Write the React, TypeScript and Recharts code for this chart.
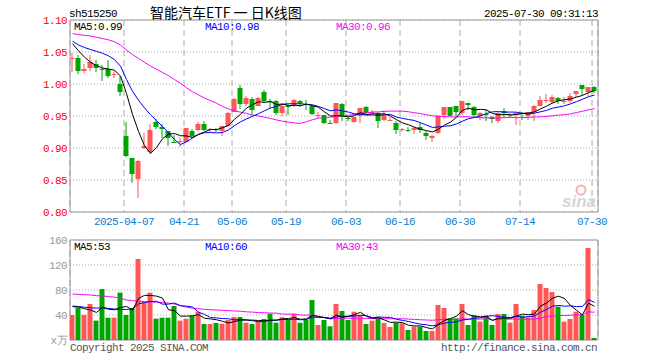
import React from 'react';
import { ComposedChart, Bar, Line, XAxis, YAxis, CartesianGrid, ReferenceArea, Cell } from 'recharts';

// trading days shown (2025)
const marDays = [24, 25, 26, 27, 28, 31];
const aprDays = [1, 2, 3, 7, 8, 9, 10, 11, 14, 15, 16, 17, 18, 21, 22, 23, 24, 25, 28, 29, 30];
const mayDays = [6, 7, 8, 9, 12, 13, 14, 15, 16, 19, 20, 21, 22, 23, 26, 27, 28, 29, 30];
const junDays = [3, 4, 5, 6, 9, 10, 11, 12, 13, 16, 17, 18, 19, 20, 23, 24, 25, 26, 27, 30];
const julDays = [1, 2, 3, 4, 7, 8, 9, 10, 11, 14, 15, 16, 17, 18, 21, 22, 23, 24, 25, 28, 29, 30];

const tickDates = ['2025-04-07', '2025-04-21', '2025-05-06', '2025-05-19', '2025-06-03', '2025-06-16', '2025-06-30', '2025-07-14', '2025-07-30'];
const tickLabels = ['2025-04-07', '04-21', '05-06', '05-19', '06-03', '06-16', '06-30', '07-14', '07-30'];

const opens = [
  1.040, 1.040, 1.020, 1.025, 1.032, 1.023, 1.024, 1.014, 1.000, 0.918,
  0.885, 0.852, 0.8995, 0.894, 0.940, 0.933, 0.927, 0.909, 0.910, 0.910,
  0.927, 0.928, 0.938, 0.928, 0.929, 0.926, 0.935, 0.957, 0.993, 0.968,
  0.977, 0.966, 0.987, 0.9735, 0.974, 0.954, 0.9655, 0.965, 0.974, 0.968,
  0.966, 0.951, 0.951, 0.9392, 0.939, 0.969, 0.9465, 0.940, 0.9495, 0.9635,
  0.9555, 0.955, 0.943, 0.9435, 0.939, 0.928, 0.9288, 0.928, 0.933, 0.9234,
  0.9156, 0.9234, 0.952, 0.9635, 0.965, 0.955, 0.970, 0.9635, 0.9495, 0.9535,
  0.9484, 0.9417, 0.9573, 0.9515, 0.952, 0.9552, 0.9495, 0.9563, 0.966, 0.9745,
  0.9714, 0.978, 0.973, 0.973, 0.9844, 0.999, 0.9875, 0.9948,
];
const highs = [
  1.048, 1.046, 1.032, 1.046, 1.038, 1.029, 1.037, 1.020, 1.012, 0.940,
  0.885, 0.882, 0.924, 0.938, 0.946, 0.938, 0.927, 0.920, 0.915, 0.932,
  0.929, 0.940, 0.942, 0.931, 0.932, 0.934, 0.956, 0.978, 0.998, 0.981,
  0.979, 0.979, 0.990, 0.977, 0.975, 0.969, 0.968, 0.976, 0.9755, 0.9755,
  0.967, 0.957, 0.952, 0.944, 0.971, 0.970, 0.950, 0.949, 0.963, 0.965,
  0.9595, 0.956, 0.960, 0.948, 0.942, 0.931, 0.933, 0.934, 0.939, 0.926,
  0.921, 0.952, 0.964, 0.964, 0.966, 0.974, 0.971, 0.965, 0.957, 0.9595,
  0.950, 0.957, 0.9625, 0.9547, 0.957, 0.957, 0.957, 0.9677, 0.9818, 0.9844,
  0.9833, 0.979, 0.980, 0.9859, 0.9896, 0.999, 0.9953, 0.9964,
];
const lows = [
  1.018, 1.015, 1.017, 1.021, 1.018, 1.005, 1.010, 1.010, 0.981, 0.886,
  0.846, 0.822, 0.899, 0.890, 0.930, 0.916, 0.903, 0.908, 0.902, 0.909,
  0.916, 0.927, 0.926, 0.925, 0.925, 0.918, 0.934, 0.956, 0.961, 0.966,
  0.952, 0.965, 0.971, 0.9625, 0.952, 0.950, 0.952, 0.9635, 0.9635, 0.959,
  0.952, 0.947, 0.937, 0.937, 0.938, 0.942, 0.9415, 0.939, 0.939, 0.953,
  0.9515, 0.932, 0.942, 0.942, 0.922, 0.925, 0.925, 0.922, 0.924, 0.913,
  0.909, 0.922, 0.945, 0.950, 0.950, 0.952, 0.960, 0.949, 0.944, 0.9425,
  0.939, 0.939, 0.947, 0.947, 0.9365, 0.9443, 0.9443, 0.9417, 0.965, 0.970,
  0.968, 0.968, 0.968, 0.9703, 0.9797, 0.983, 0.982, 0.986,
];
const closes = [
  1.041, 1.020, 1.024, 1.034, 1.025, 1.022, 1.012, 1.015, 0.988, 0.888,
  0.860, 0.879, 0.903, 0.928, 0.933, 0.929, 0.915, 0.9085, 0.9105, 0.931,
  0.918, 0.938, 0.928, 0.930, 0.9285, 0.934, 0.955, 0.977, 0.968, 0.978,
  0.960, 0.978, 0.973, 0.973, 0.955, 0.965, 0.965, 0.9755, 0.970, 0.9675,
  0.953, 0.952, 0.939, 0.9388, 0.970, 0.9495, 0.946, 0.948, 0.9625, 0.955,
  0.956, 0.942, 0.952, 0.944, 0.9276, 0.930, 0.9284, 0.932, 0.928, 0.918,
  0.919, 0.9505, 0.9635, 0.9505, 0.957, 0.973, 0.9665, 0.951, 0.9547, 0.953,
  0.9453, 0.9547, 0.9547, 0.952, 0.9547, 0.9547, 0.9557, 0.965, 0.9755, 0.9755,
  0.9797, 0.973, 0.9735, 0.9818, 0.9896, 0.9927, 0.9953, 0.9896,
];
// volume, 万手
const volumes = [
  40, 51.7, 40, 57.6, 31, 81.6, 35.7, 35.7, 75.7, 40,
  51.2, 129.6, 60.3, 75.7, 34.1, 35.7, 35.7, 54.4, 31, 34.1,
  38.4, 45.3, 25.6, 25.6, 27.2, 26.1, 32, 36.8, 36.8, 27.7,
  25.6, 29.3, 33.6, 42.1, 27.7, 36.3, 32, 41.6, 27.7, 32,
  64, 24, 32, 22, 57.6, 46.4, 32, 45.3, 40, 25.6,
  31, 36.3, 27.2, 20.8, 27.7, 26.7, 16, 21.3, 21.3, 14.4,
  14.4, 56, 51.2, 34.7, 34.7, 57.6, 24, 39.5, 29.3, 38.9,
  24, 41.6, 41.6, 27.7, 57.6, 38.9, 36.3, 48, 89.6, 83.2,
  76.8, 53.3, 29.3, 33.6, 45.3, 40, 147.2, 3.2,
];

// MA values before enough days are in the window
const ma5Head = [1.063, 1.052, 1.042, 1.034];
const ma10Head = [1.067, 1.061, 1.057, 1.054, 1.051, 1.048, 1.044, 1.038, 1.028];
const ma30Head = [
  1.079, 1.077, 1.076, 1.075, 1.073, 1.071, 1.069, 1.066, 1.061, 1.053,
  1.046, 1.040, 1.034, 1.028, 1.023, 1.018, 1.013, 1.007, 1.001, 0.994,
  0.988, 0.983, 0.978, 0.974, 0.970, 0.965, 0.961, 0.958, 0.956,
];
const vma5Head = [53.3, 52.8, 50, 48];
const vma10Head = [54.4, 53.5, 52.5, 51.5, 51, 51.5, 50.5, 49.5, 49];
const vma30Head = [
  73.6, 73, 72.5, 72, 71, 70.5, 69.5, 68.5, 67, 64,
  63, 62, 61.5, 61, 60.5, 60, 59, 57.5, 55, 52.5,
  51, 50, 49, 48.5, 48, 47.5, 47, 46.5, 46,
];

const priceLegend = ['MA5:0.99', 'MA10:0.98', 'MA30:0.96'];
const volLegend = ['MA5:53', 'MA10:60', 'MA30:43'];

const RED = '#ff5656';
const GREEN = '#00a600';
const GRID = '#aaaaaa';
const MONO = '"Liberation Mono", "DejaVu Sans Mono", monospace';

const movingAvg = (vals: number[], n: number, head: number[]) =>
  vals.map((_, i) => {
    if (i < n - 1) return head[i];
    let s = 0;
    for (let k = i - n + 1; k <= i; k++) s += vals[k];
    return s / n;
  });

const dates = [
  ...marDays.map(d => `2025-03-${String(d).padStart(2, '0')}`),
  ...aprDays.map(d => `2025-04-${String(d).padStart(2, '0')}`),
  ...mayDays.map(d => `2025-05-${String(d).padStart(2, '0')}`),
  ...junDays.map(d => `2025-06-${String(d).padStart(2, '0')}`),
  ...julDays.map(d => `2025-07-${String(d).padStart(2, '0')}`),
];
const N = dates.length;
const tickIdx = tickDates.map(d => dates.indexOf(d));

const ma5 = movingAvg(closes, 5, ma5Head);
const ma10 = movingAvg(closes, 10, ma10Head);
const ma30 = movingAvg(closes, 30, ma30Head);
const vma5 = movingAvg(volumes, 5, vma5Head);
const vma10 = movingAvg(volumes, 10, vma10Head);
const vma30 = movingAvg(volumes, 30, vma30Head);

const rows = dates.map((date, i) => ({
  date,
  pos: i + 5 / 12, // candle sits a bit left of the slot centre, like the source
  open: opens[i],
  high: highs[i],
  low: lows[i],
  close: closes[i],
  range: [lows[i], highs[i]],
  vol: volumes[i],
  ma5: ma5[i],
  ma10: ma10[i],
  ma30: ma30[i],
  vma5: vma5[i],
  vma10: vma10[i],
  vma30: vma30[i],
}));

const Candle = (props: any) => {
  const { x, y, width, height, payload } = props;
  if (!payload) return null;
  const { open, close, high, low } = payload;
  const top = Math.min(y, y + height);
  const h = Math.abs(height);
  const ppu = h / (high - low);
  const yOf = (v: number) => top + (high - v) * ppu;
  const cx = x + width / 2;
  const color = close >= open ? RED : GREEN;
  const bTop = Math.round(yOf(Math.max(open, close)));
  const bBot = Math.round(yOf(Math.min(open, close)));
  return (
    <g>
      <rect x={cx - 0.5} y={Math.round(top)} width={1} height={Math.max(1, Math.round(top + h) - Math.round(top))} fill={color} />
      <rect x={cx - 2.5} y={bTop} width={5} height={Math.max(1, bBot - bTop)} fill={color} />
    </g>
  );
};

const axisTick = (fill: string) => ({ fill, fontSize: 11, fontFamily: MONO, letterSpacing: -0.6 });

const App = () => {
  return (
    <div style={{ position: 'absolute', left: 0, top: 0, width: 660, height: 360, background: '#fff' }}>
      <div style={{ position: 'absolute', left: 0, top: 0 }}>
        <ComposedChart width={660} height={230} data={rows} margin={{ top: 20, right: 62, bottom: 0, left: 0 }}>
          <CartesianGrid vertical={false} stroke={GRID} strokeDasharray="1 2" />
          <CartesianGrid horizontal={false} stroke={GRID} strokeDasharray="6 4" />
          <XAxis
            type="number"
            dataKey="pos"
            domain={[0, N]}
            ticks={tickIdx}
            interval={0}
            allowDataOverflow
            tickLine={false}
            axisLine={false}
            tickSize={0}
            tickMargin={5}
            height={18}
            tick={axisTick('#0a80d0')}
            tickFormatter={(v: number) => tickLabels[tickIdx.indexOf(v)] ?? ''}
          />
          <YAxis
            domain={[0.8, 1.1]}
            ticks={[0.8, 0.85, 0.9, 0.95, 1.0, 1.05, 1.1]}
            allowDataOverflow
            width={70}
            tickLine={false}
            axisLine={false}
            tickSize={0}
            tickMargin={3}
            tick={axisTick('#ff0000')}
            tickFormatter={(v: number) => v.toFixed(2)}
          />
          <ReferenceArea x1={0} x2={N} y1={0.8} y2={1.1} fill="none" stroke="#999" strokeWidth={1} />
          <Bar dataKey="range" barSize={5} shape={<Candle />} isAnimationActive={false} />
          <Line type="linear" dataKey="ma30" stroke="#ff00ff" strokeWidth={1} dot={false} isAnimationActive={false} />
          <Line type="linear" dataKey="ma10" stroke="#0000ff" strokeWidth={1} dot={false} isAnimationActive={false} />
          <Line type="linear" dataKey="ma5" stroke="#000000" strokeWidth={1} dot={false} isAnimationActive={false} />
        </ComposedChart>
      </div>
      <div style={{ position: 'absolute', left: 0, top: 230 }}>
        <ComposedChart width={660} height={130} data={rows} margin={{ top: 10, right: 62, bottom: 0, left: 0 }}>
          <CartesianGrid vertical={false} stroke={GRID} strokeDasharray="1 2" />
          <CartesianGrid horizontal={false} stroke={GRID} strokeDasharray="6 4" />
          <XAxis
            type="number"
            dataKey="pos"
            domain={[0, N]}
            ticks={tickIdx}
            interval={0}
            allowDataOverflow
            tick={false}
            tickLine={false}
            axisLine={false}
            height={20}
          />
          <YAxis
            domain={[0, 160]}
            ticks={[0, 40, 80, 120, 160]}
            allowDataOverflow
            width={70}
            tickLine={false}
            axisLine={false}
            tickSize={0}
            tickMargin={3}
            tick={axisTick('#999999')}
            tickFormatter={(v: number) => (v === 0 ? 'x万' : String(v))}
          />
          <ReferenceArea x1={0} x2={N} y1={0} y2={160} fill="none" stroke="#999" strokeWidth={1} />
          <Bar dataKey="vol" barSize={5} isAnimationActive={false}>
            {rows.map((r, i) => (
              <Cell key={`v-${i}`} fill={r.close >= r.open ? RED : GREEN} />
            ))}
          </Bar>
          <Line type="linear" dataKey="vma30" stroke="#ff00ff" strokeWidth={1} dot={false} isAnimationActive={false} />
          <Line type="linear" dataKey="vma10" stroke="#0000ff" strokeWidth={1} dot={false} isAnimationActive={false} />
          <Line type="linear" dataKey="vma5" stroke="#000000" strokeWidth={1} dot={false} isAnimationActive={false} />
        </ComposedChart>
      </div>
      {/* header, legends, footer */}
      <svg width={660} height={360} style={{ position: 'absolute', left: 0, top: 0, pointerEvents: 'none' }}>
        <g fontFamily={MONO} fontSize={11} letterSpacing={-0.6}>
          <text x={69} y={17} fill="#000">sh515250</text>
          <text x={598} y={17} fill="#000" textAnchor="end">2025-07-30 09:31:13</text>
          <text x={74} y={30} fill="#000">{priceLegend[0]}</text>
          <text x={205} y={30} fill="#0000ff">{priceLegend[1]}</text>
          <text x={336} y={30} fill="#ff00ff">{priceLegend[2]}</text>
          <text x={74} y={250} fill="#000">{volLegend[0]}</text>
          <text x={205} y={250} fill="#0000ff">{volLegend[1]}</text>
          <text x={336} y={250} fill="#ff00ff">{volLegend[2]}</text>
          <text x={70} y={351} fill="#555">Copyright 2025 SINA.COM</text>
          <text x={597} y={351} fill="#555" textAnchor="end">http://finance.sina.com.cn</text>
        </g>
        <text x={150} y={18} fontSize={14} xmlSpace="preserve" style={{ whiteSpace: 'pre' }} fontFamily={'"Noto Sans CJK SC", sans-serif'} fill="#000">
          {'智能汽车ETF 一 日K线图'}
        </text>
        <circle cx={581} cy={190} r={4.5} fill="none" stroke="#f2b4b4" strokeWidth={2} />
        <text x={596} y={207} textAnchor="end" fontSize={17} fontStyle="italic" fontWeight="bold" fontFamily="Arial, sans-serif" fill="#d6d6d6">
          sina
        </text>
      </svg>
    </div>
  );
};

export default App;
